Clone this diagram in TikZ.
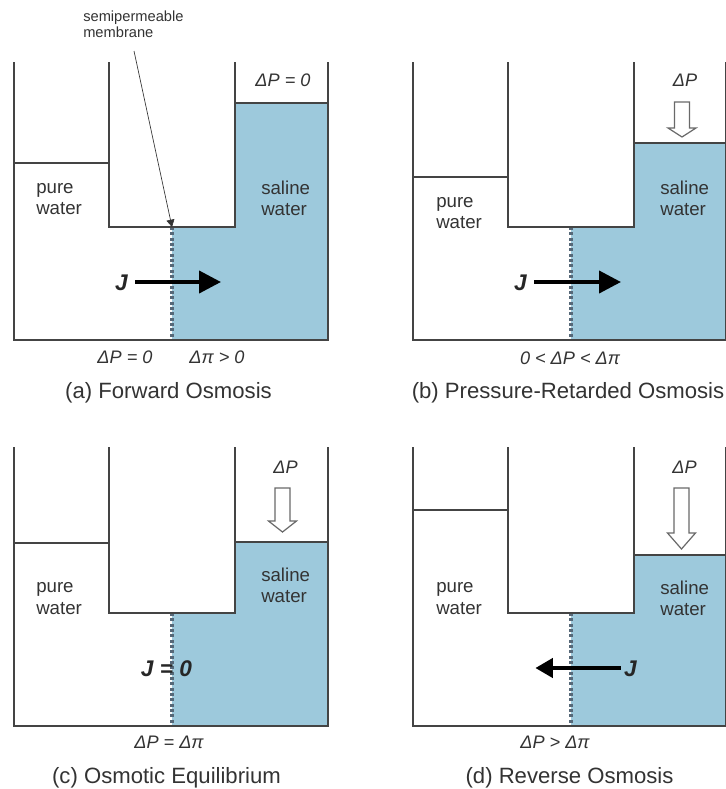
\documentclass[tikz,border=0pt]{standalone}
\usepackage{fontspec}
\setmainfont{Liberation Sans}
\usetikzlibrary{arrows.meta}
\definecolor{saline}{HTML}{9DC9DC}
\definecolor{wall}{HTML}{444444}
\definecolor{memb}{HTML}{566878}
\definecolor{ink}{HTML}{333333}
\tikzset{
  wallline/.style={draw=wall,line width=1.5pt,line cap=butt},
  membrane/.style={draw=memb,line width=3pt,dash pattern=on 2.2pt off 1.8pt},
  lbl/.style={text=ink,font=\fontsize{14pt}{16pt}\selectfont,align=left,inner sep=0pt},
  caption/.style={text=ink,font=\fontsize{16.6pt}{19pt}\selectfont,inner sep=0pt},
  cond/.style={text=ink,font=\fontsize{13.6pt}{16pt}\selectfont\itshape,inner sep=0pt},
  jlbl/.style={text=black!85,font=\fontsize{17pt}{20pt}\selectfont\bfseries\itshape,inner sep=0pt},
  small/.style={text=ink,font=\fontsize{11pt}{12pt}\selectfont,align=left,inner sep=0pt},
  flux/.style={draw=black,line width=3pt,-{Triangle[length=16.5pt,width=16.5pt]}},
  fluxsmall/.style={draw=black,line width=2.4pt,-{Triangle[length=13pt,width=14.5pt]}},
  leader/.style={draw=black!80,line width=0.5pt,-{Triangle[length=5.5pt,width=6pt]}},
  hollow/.style={draw=wall!80,fill=white,line width=0.9pt,line join=miter},
}
% #1 name, #2 left x, #3 top y, #4 right x, #5 left level, #6 right level, #7 inner floor, #8 bottom
\newcommand{\tank}[8]{
  \fill[saline] ({#2+158},{#8}) -- ({#2+158},{#7}) -- ({#2+220.5},{#7}) -- ({#2+220.5},{#6}) -- (#4,{#6}) -- (#4,{#8}) -- cycle;
  \draw[membrane] ({#2+158},{#7}) coordinate (#1mt) -- ({#2+158},{#8}) coordinate (#1mb);
  \draw[wallline] (#2,#3) -- (#2,#8) -- (#4,#8) -- (#4,#3);
  \draw[wallline] ({#2+95},#3) -- ({#2+95},#7) -- ({#2+220.5},#7) -- ({#2+220.5},#3);
  \draw[wallline] (#2,#5) -- ({#2+95},#5);
  \draw[wallline] ({#2+220.5},#6) -- (#4,#6);
}
% #1 x centre, #2 top, #3 shoulder, #4 tip
\newcommand{\hollowarrow}[4]{
  \draw[hollow] ({#1-7.5},#2) -- ({#1+7.5},#2) -- ({#1+7.5},#3) -- ({#1+14},#3) -- (#1,#4) -- ({#1-14},#3) -- ({#1-7.5},#3) -- cycle;
}
\begin{document}
\begin{tikzpicture}[x=0.75pt,y=-0.75pt]
\useasboundingbox (0,0) rectangle (725,789);
\fill[white] (0,0) rectangle (725,789);

% (a)
\tank{a}{14}{62}{328}{163}{103}{227}{340}
\node[lbl,anchor=west] (apure) at (36,199) {pure\\water};
\node[lbl,anchor=west] (asal) at (261,198.5) {saline\\water};
\node[cond] (adp) at (283,80) {ΔP = 0};
\node[jlbl] (aj) at (121.5,283) {J};
\coordinate (ajend) at (221,282);
\draw[flux] (aj.east |- ajend) ++(7,0) -- (ajend);
\node[small,anchor=north west] (amem) at (83,11) {semipermeable\\membrane};
\coordinate (amfrom) at (134,51);
\draw[leader] (amfrom) -- (amt);
\node[cond] (ac1) at (125,357.5) {ΔP = 0};
\node[cond] (ac2) at (217,357.5) {Δπ > 0};
\node[caption] (acap) at (168.5,392.5) {(a) Forward Osmosis};

% (b)
\tank{b}{413}{62}{726}{177}{143}{227}{340}
\node[lbl,anchor=west] (bpure) at (436,213) {pure\\water};
\node[lbl,anchor=west] (bsal) at (660,198.5) {saline\\water};
\node[cond] (bdp) at (685,80) {ΔP};
\hollowarrow{682}{102}{128}{137}
\node[jlbl] (bj) at (520.5,283) {J};
\coordinate (bjend) at (621,282);
\draw[flux] (bj.east |- bjend) ++(7,0) -- (bjend);
\node[cond] (bc) at (570,358) {0 < ΔP < Δπ};
\node[caption] (bcap) at (568,392.5) {(b) Pressure-Retarded Osmosis};

% (c)
\tank{c}{14}{447}{328}{543}{542}{613}{726}
\node[lbl,anchor=west] (cpure) at (36,598.5) {pure\\water};
\node[lbl,anchor=west] (csal) at (261,585.5) {saline\\water};
\node[cond] (cdp) at (285.5,467) {ΔP};
\hollowarrow{282.5}{488}{521}{532}
\node[jlbl] (cj) at (166.5,669) {J = 0};
\node[cond] (cc) at (169,742) {ΔP = Δπ};
\node[caption] (ccap) at (166.5,778) {(c) Osmotic Equilibrium};

% (d)
\tank{d}{413}{447}{726}{510}{555}{613}{726}
\node[lbl,anchor=west] (dpure) at (436,598.5) {pure\\water};
\node[lbl,anchor=west] (dsal) at (660,598.5) {saline\\water};
\node[cond] (ddp) at (684.5,467) {ΔP};
\hollowarrow{681.5}{488}{533}{549}
\node[jlbl] (dj) at (630.5,669) {J};
\coordinate (djend) at (535.5,668);
\draw[fluxsmall] (dj.west |- djend) ++(-3,0) -- (djend);
\node[cond] (dc) at (555,742) {ΔP > Δπ};
\node[caption] (dcap) at (569.5,778) {(d) Reverse Osmosis};
\end{tikzpicture}
\end{document}
